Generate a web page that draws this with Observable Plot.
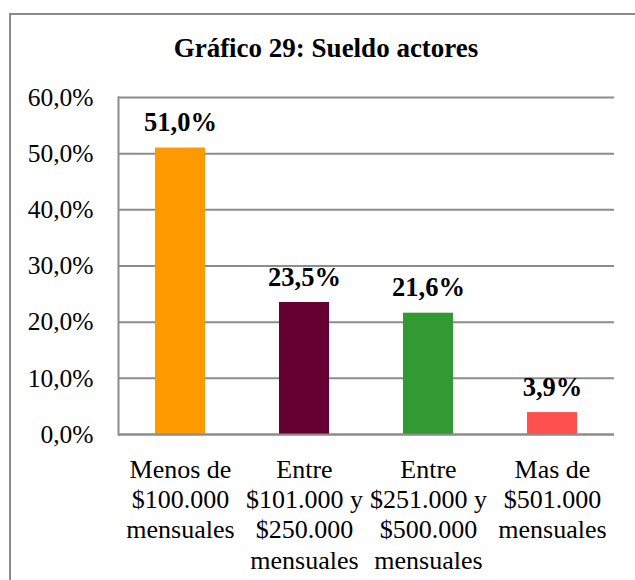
<!DOCTYPE html>
<html>
<head>
<meta charset="utf-8">
<script src="https://cdn.jsdelivr.net/npm/d3@7"></script>
<script src="https://cdn.jsdelivr.net/npm/@observablehq/plot@0.6"></script>
<style>
  html, body { margin: 0; padding: 0; overflow: hidden; background: white; width: 635px; height: 580px; }
  #wrap { position: relative; width: 635px; height: 580px; }
  #chart { position: absolute; left: 0; top: 0; }
  #title { position: absolute; left: 9px; width: 634px; top: 35px; text-align: center;
           font-family: "Liberation Serif", "Times New Roman"; font-weight: bold;
           font-size: 27px; line-height: 27px; color: #000; }
  #border { position: absolute; left: 9px; top: 13px; width: 700px; height: 700px;
            border: 2px solid #8a8a8a; pointer-events: none; }
</style>
</head>
<body>
<div id="wrap">
  <div id="chart"></div>
  <div id="title">Gráfico 29: Sueldo actores</div>
  <div id="border"></div>
</div>
<script>
const categories = [
  "Menos de\n$100.000\nmensuales",
  "Entre\n$101.000 y\n$250.000\nmensuales",
  "Entre\n$251.000 y\n$500.000\nmensuales",
  "Mas de\n$501.000\nmensuales"
];
const values = [51.0, 23.5, 21.6, 3.9];
const colors = ["#FF9900", "#660033", "#339933", "#FF5050"];
const yTicks = [0, 10, 20, 30, 40, 50, 60];

const data = categories.map((c, i) => ({ cat: c, value: values[i], color: colors[i] }));
const fmt = v => v.toFixed(1).replace(".", ",") + "%";
const font = "'Liberation Serif', 'Times New Roman'";

const plot = Plot.plot({
  width: 635,
  height: 580,
  marginLeft: 118,
  marginRight: 21,
  marginTop: 97,
  marginBottom: 146,
  style: { fontFamily: font, background: "transparent", color: "#000" },
  x: { domain: categories, paddingInner: 0.6, paddingOuter: 0.3, label: null },
  y: { domain: [0, 60], label: null },
  marks: [
    Plot.ruleY(yTicks, { stroke: "#8c8c8c", strokeWidth: 2 }),
    Plot.frame({ anchor: "left", stroke: "#8c8c8c", strokeWidth: 2 }),
    Plot.barY(data, { x: "cat", y: "value", fill: "color" }),
    Plot.ruleY([0], { stroke: "#8c8c8c", strokeWidth: 2 }),
    Plot.axisY({ ticks: yTicks, tickSize: 0, tickPadding: 25, fontSize: 25.5, tickFormat: fmt, fill: "#000", fontFamily: font }),
    Plot.axisX({ tickSize: 0, tickPadding: 21.5, fontSize: 26, lineHeight: 1.17, fill: "#000", fontFamily: font, tickFormat: d => d }),
    Plot.text(data, { x: "cat", y: "value", text: d => fmt(d.value), lineAnchor: "bottom", dy: -17,
                      fontSize: 26.5, fontWeight: "bold", fill: "#000", fontFamily: font })
  ]
});
document.getElementById("chart").appendChild(plot);
</script>
</body>
</html>
